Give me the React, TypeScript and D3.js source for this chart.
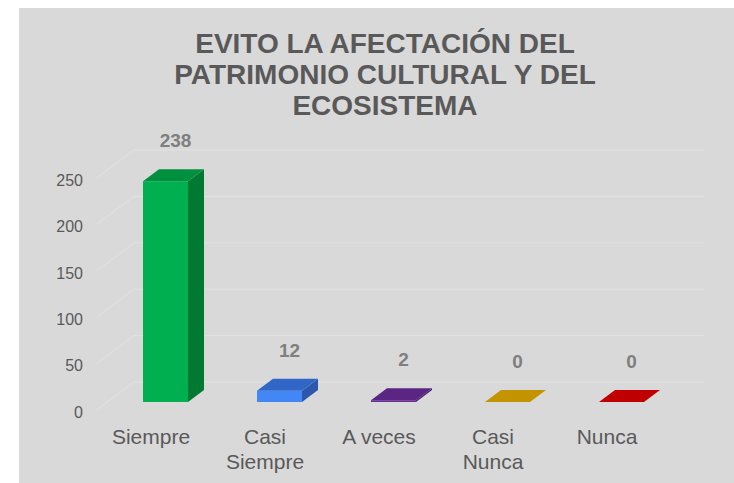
import React from "react";
import * as d3 from "d3";

const categories = ["Siempre", "Casi Siempre", "A veces", "Casi Nunca", "Nunca"];
const categoryLines = [["Siempre"], ["Casi", "Siempre"], ["A veces"], ["Casi", "Nunca"], ["Nunca"]];
const values = [238, 12, 2, 0, 0];
const yTicks = [0, 50, 100, 150, 200, 250];
const titleLines = ["EVITO LA AFECTACIÓN DEL", "PATRIMONIO CULTURAL Y DEL", "ECOSISTEMA"];
const frontColors = ["#00b050", "#4287f5", "#6a2c9a", "#d09c00", "#d40000"];
const topColors = ["#00903f", "#3067c6", "#5a2583", "#c49300", "#c00000"];
const sideColors = ["#007a30", "#2b58ad", "#4a1e6e", "#a87f00", "#a00000"];

const W = 734;
const H = 483;
const BASE_Y = 412;
const K = 4 / 3; // dx per unit of depth
const Z_FRONT = 10;
const Z_BACK = 22;
const Z_WALL = 30;
const BAR_W = 45;

export default function App() {
  const x = d3.scaleBand<string>().domain(categories).range([94, 664]).padding(0);
  const y = d3.scaleLinear().domain([0, 250]).range([0, 232]);
  const P = (sx: number, v: number, z: number): [number, number] => [sx + z * K, BASE_Y - y(v) - z];
  const pts = (arr: [number, number][]) => arr.map((p) => p.join(",")).join(" ");

  const x0 = x.range()[0];
  const x1 = x.range()[1];

  return (
    <svg width={W} height={H} style={{ position: "absolute", left: 0, top: 0 }}>
      <rect x={19} y={8} width={W - 19} height={H - 8} fill="#d9d9d9" />
      <g fontFamily="'Liberation Sans', Arial, sans-serif" fontWeight="bold" fill="#595959" fontSize={28} textAnchor="middle">
        {titleLines.map((t, i) => (
          <text key={i} x={385} y={53 + i * 31}>{t}</text>
        ))}
      </g>
      {/* gridlines */}
      <g stroke="#e2e2e2" strokeWidth={1} fill="none">
        {yTicks.map((t) => {
          const a = P(x0, t, 2);
          const b = P(x0, t, Z_WALL);
          const c = P(x1, t, Z_WALL);
          return <polyline key={t} points={pts([a, b, c])} />;
        })}
      </g>
      {/* tick labels */}
      <g fontFamily="'Liberation Sans', Arial, sans-serif" fill="#595959" fontSize={16} textAnchor="end">
        {yTicks.map((t) => (
          <text key={t} x={83} y={BASE_Y - y(t)} dy="0.36em">{t}</text>
        ))}
      </g>
      {/* bars */}
      {categories.map((c, i) => {
        const v = values[i];
        const l = (x(c) as number) + x.bandwidth() / 2 - 8 - Z_FRONT * K;
        const r = l + BAR_W;
        const fbl = P(l, 0, Z_FRONT), fbr = P(r, 0, Z_FRONT), ftr = P(r, v, Z_FRONT), ftl = P(l, v, Z_FRONT);
        const btl = P(l, v, Z_BACK), btr = P(r, v, Z_BACK), bbr = P(r, 0, Z_BACK);
        const mid = P((l + r) / 2, v, (Z_FRONT + Z_BACK) / 2);
        const backTop = P(0, v, Z_BACK)[1];
        return (
          <g key={c}>
            {v > 0 && <polygon points={pts([fbr, bbr, btr, ftr])} fill={sideColors[i]} />}
            {v > 0 && <polygon points={pts([fbl, fbr, ftr, ftl])} fill={frontColors[i]} />}
            <polygon points={pts([ftl, ftr, btr, btl])} fill={topColors[i]} />
            <text x={mid[0] + 2} y={backTop - 22} textAnchor="middle" fontFamily="'Liberation Sans', Arial, sans-serif" fontWeight="bold" fontSize={19} fill="#7f7f7f">{v}</text>
          </g>
        );
      })}
      {/* category labels */}
      <g fontFamily="'Liberation Sans', Arial, sans-serif" fill="#595959" fontSize={21} textAnchor="middle">
        {categories.map((c, i) => (
          <text key={c} x={(x(c) as number) + x.bandwidth() / 2} y={444}>
            {categoryLines[i].map((ln, j) => (
              <tspan key={j} x={(x(c) as number) + x.bandwidth() / 2} dy={j === 0 ? 0 : 25}>{ln}</tspan>
            ))}
          </text>
        ))}
      </g>
    </svg>
  );
}
